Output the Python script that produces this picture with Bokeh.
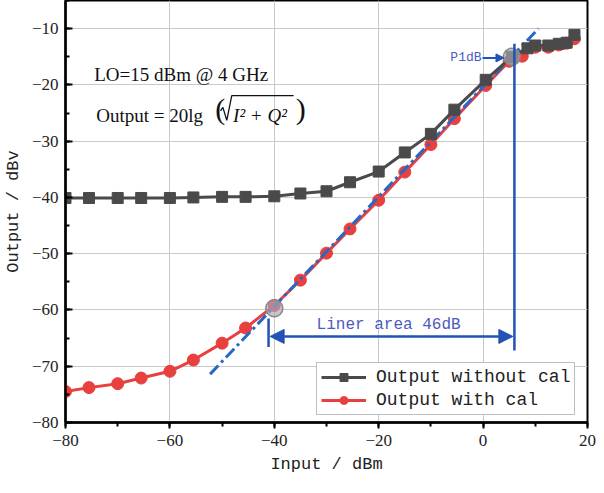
from bokeh.plotting import figure
from bokeh.models import (ColumnDataSource, Legend, LegendItem, Arrow, NormalHead,
                          Label, SingleIntervalTicker, Range1d)
from bokeh.embed import file_html
from bokeh.resources import INLINE

# ---- data ----
x_nocal = [-80, -75.5, -70, -65.5, -60, -55.5, -50, -45.5, -40, -35, -30, -25.5, -20,
           -15, -10, -5.5, 0.5, 5.5, 8.5, 10, 12.5, 14.5, 16, 17.5]
y_nocal = [-40.1, -40.1, -40.1, -40.1, -40.1, -40.0, -39.9, -39.9, -39.8, -39.3, -38.9,
           -37.3, -35.4, -32.0, -28.7, -24.4, -19.1, -15.0, -13.5, -13.0, -13.0, -12.7,
           -12.5, -11.1]
x_cal = [-80, -75.5, -70, -65.5, -60, -55.5, -50, -45.5, -40, -35, -30, -25.5, -20,
         -15, -10, -5.5, 0.5, 5, 7.5, 10, 12.5, 14.5, 16, 17.5]
y_cal = [-74.5, -73.8, -73.1, -72.1, -70.9, -68.9, -65.9, -63.2, -59.2, -54.7, -49.9,
         -45.6, -40.5, -35.5, -30.6, -26.0, -20.1, -15.8, -14.9, -13.3, -13.3, -12.9,
         -12.6, -11.8]
fit_x = [-52.3, 10.6]
fit_y = [-71.4, -10.0]
mark_x = [-40, 5.5]          # grey circles (linear start, P1dB)
mark_y = [-59.7, -15.0]
lin_start_x = -41.1
lin_end_x = 6.0
lin_arrow_y = -64.7
x_ticks = [-80, -60, -40, -20, 0, 20]
x_tick_labels = ["\u221280", "\u221260", "\u221240", "\u221220", "0", "20"]
y_ticks = [-80, -70, -60, -50, -40, -30, -20, -10]
y_tick_labels = ["\u221280", "\u221270", "\u221260", "\u221250", "\u221240",
                 "\u221230", "\u221220", "\u221210"]
# radical sign path of the formula (annotation)
rad_x = [-50.3, -49.85, -49.1, -48.15, -36.3]
rad_y = [-24.6, -24.0, -26.3, -21.9, -21.9]

MONO = "Liberation Mono"
SERIF = "Liberation Serif"
BLUE = "#2152b4"
TXTBLUE = "#4a5cc0"

p = figure(width=596, height=477, output_backend="svg", toolbar_location=None,
           x_range=Range1d(-80, 20), y_range=Range1d(-80, -5),
           min_border_left=63, min_border_right=9, min_border_top=0,
           min_border_bottom=55)
p.background_fill_color = "white"
p.border_fill_color = "white"
p.outline_line_color = "black"
p.outline_line_width = 2

p.xaxis.ticker = SingleIntervalTicker(interval=20, num_minor_ticks=2)
p.yaxis.ticker = SingleIntervalTicker(interval=10, num_minor_ticks=2)
p.xaxis.major_label_overrides = dict(zip(x_ticks, x_tick_labels))
p.yaxis.major_label_overrides = dict(zip(y_ticks, y_tick_labels))

p.axis.axis_line_width = 2.5
p.axis.axis_line_color = "black"
p.axis.major_tick_line_width = 2
p.axis.minor_tick_line_width = 2
p.axis.major_tick_line_color = "black"
p.axis.minor_tick_line_color = "black"
p.axis.major_label_text_font = SERIF
p.axis.major_label_text_font_size = "17px"
p.axis.major_label_text_color = "#222222"
p.axis.axis_label_text_font = MONO
p.axis.axis_label_text_font_size = "17px"
p.axis.axis_label_text_font_style = "normal"
p.axis.axis_label_text_color = "#222222"

p.xaxis.major_tick_in = 0
p.xaxis.major_tick_out = 6
p.xaxis.minor_tick_in = 0
p.xaxis.minor_tick_out = 4
p.xaxis.major_label_standoff = 6
p.xaxis.axis_label = "Input / dBm"
p.xaxis.axis_label_standoff = 6

p.yaxis.major_tick_in = 7
p.yaxis.major_tick_out = 0
p.yaxis.minor_tick_in = 4
p.yaxis.minor_tick_out = 0
p.yaxis.major_label_standoff = 7
p.yaxis.axis_label = "Output / dBv"
p.yaxis.axis_label_standoff = 6

p.grid.grid_line_color = "#c9c9c9"
p.grid.grid_line_width = 1

src_n = ColumnDataSource(dict(x=x_nocal, y=y_nocal))
src_c = ColumnDataSource(dict(x=x_cal, y=y_cal))

# red (with cal)
rl = p.line("x", "y", source=src_c, line_color="#e8403f", line_width=3)
rs = p.scatter("x", "y", source=src_c, marker="circle", size=12,
               fill_color="#e8403f", line_color="#e8403f")

# fitted linear line (dash-dot)
p.line(fit_x, fit_y, line_color="#2469c8", line_width=3, line_dash="12 4 3 4")

# black (without cal)
bl = p.line("x", "y", source=src_n, line_color="#4a4a4a", line_width=3)
bs = p.scatter("x", "y", source=src_n, marker="square", size=11,
               fill_color="#4a4a4a", line_color="#4a4a4a")

# grey circles
p.scatter(mark_x, mark_y, marker="circle", size=17, fill_color="#a8a8b8",
          fill_alpha=0.65, line_color="#888888", line_width=1.5)

# vertical marker lines
p.segment(x0=[lin_start_x, lin_end_x], y0=[-61.5, -12.7],
          x1=[lin_start_x, lin_end_x], y1=[-66.6, -67.2],
          line_color=BLUE, line_width=2.5)

# liner area arrow
p.add_layout(Arrow(x_start=lin_start_x + 0.3, y_start=lin_arrow_y,
                   x_end=lin_end_x - 0.3, y_end=lin_arrow_y,
                   line_color=BLUE, line_width=2.5,
                   start=NormalHead(size=14, fill_color=BLUE, line_color=BLUE),
                   end=NormalHead(size=14, fill_color=BLUE, line_color=BLUE)))
p.add_layout(Label(x=-31.9, y=-62.6, text="Liner area 46dB", text_font=MONO,
                   text_font_size="16px", text_color=TXTBLUE,
                   text_baseline="middle"))

# P1dB
p.add_layout(Arrow(x_start=-0.1, y_start=-15.2, x_end=4.0, y_end=-15.2,
                   line_color=BLUE, line_width=2,
                   end=NormalHead(size=8, fill_color=BLUE, line_color=BLUE)))
p.add_layout(Label(x=-0.3, y=-15.2, text="P1dB", text_font=MONO,
                   text_font_size="13px", text_color=TXTBLUE,
                   text_align="right", text_baseline="middle"))

# annotations
p.add_layout(Label(x=-74.5, y=-18.2, text="LO=15 dBm @ 4 GHz", text_font=SERIF,
                   text_font_size="19px", text_color="#111111",
                   text_baseline="alphabetic"))
p.add_layout(Label(x=-74.1, y=-25.4, text="Output = 20lg", text_font=SERIF,
                   text_font_size="19px", text_color="#111111",
                   text_baseline="alphabetic"))
p.add_layout(Label(x=-51.3, y=-24.2, text="(", text_font=SERIF,
                   text_font_size="30px", text_color="#111111",
                   text_baseline="middle"))
p.line(rad_x, rad_y, line_color="#111111", line_width=1.3)
p.add_layout(Label(x=-47.9, y=-25.4, text="I\u00b2 + Q\u00b2", text_font=SERIF,
                   text_font_size="19px", text_font_style="italic",
                   text_color="#111111", text_baseline="alphabetic"))
p.add_layout(Label(x=-35.9, y=-24.2, text=")", text_font=SERIF,
                   text_font_size="30px", text_color="#111111",
                   text_baseline="middle"))

legend = Legend(items=[LegendItem(label="Output without cal", renderers=[bl, bs]),
                       LegendItem(label="Output with cal", renderers=[rl, rs])],
                location=(251, 7), label_text_font=MONO,
                label_text_font_size="18px", label_text_color="#222222",
                glyph_width=45, glyph_height=20, label_height=20,
                label_standoff=10, spacing=3, padding=4, margin=0,
                border_line_color="#808080", border_line_width=1,
                background_fill_alpha=1.0)
p.add_layout(legend)

open("out.html", "w").write(file_html(p, INLINE))
